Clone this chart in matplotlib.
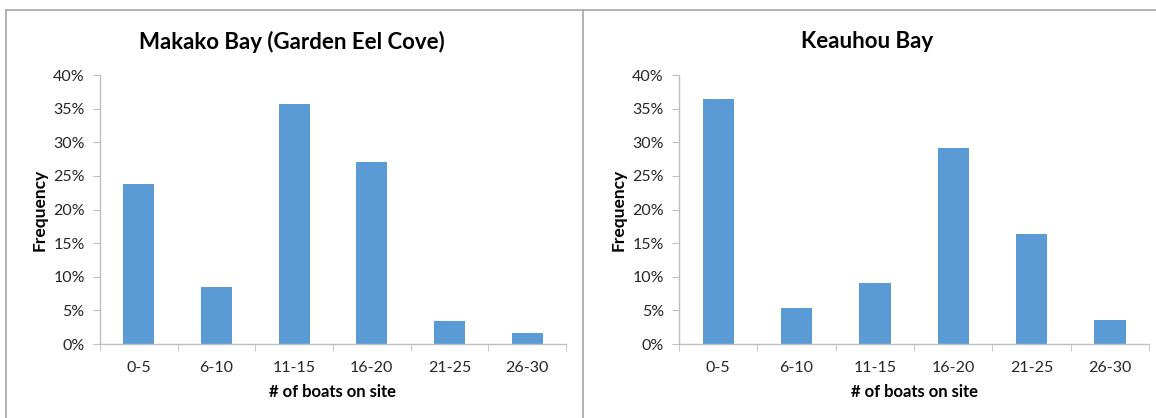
import matplotlib.pyplot as plt
import numpy as np
from matplotlib.lines import Line2D
from matplotlib.ticker import PercentFormatter

plt.rcParams['font.family'] = ['Lato', 'DejaVu Sans']

# Share of observations per boat-count bin (percent)
bins = ['0-5', '6-10', '11-15', '16-20', '21-25', '26-30']
makako = [23.8, 8.5, 35.7, 27.1, 3.4, 1.7]
keauhou = [36.4, 5.4, 9.1, 29.1, 16.4, 3.6]

bar_color = '#5b9bd5'
axis_color = '#bfbfbf'
text_color = '#262626'

fig = plt.figure(figsize=(11.56, 4.18), dpi=100)

# Chart areas, one per site
ax1 = fig.add_axes([0.0865, 0.177, 0.4031, 0.6435])
ax2 = fig.add_axes([0.5874, 0.177, 0.4066, 0.6435])

def draw_panel(ax, values):
    x = np.arange(len(bins))
    ax.bar(x, values, width=0.4, color=bar_color, zorder=2)
    ax.set_xlim(-0.5, len(bins) - 0.5)
    ax.set_ylim(0, 40)
    ax.set_yticks(np.arange(0, 41, 5))
    ax.yaxis.set_major_formatter(PercentFormatter(decimals=0))
    ax.set_xticks(x)
    ax.set_xticklabels(bins)
    ax.set_xticks(np.arange(-0.5, len(bins)), minor=True)
    ax.tick_params(axis='x', which='major', length=0, pad=12,
                   labelsize=11.5, labelcolor=text_color)
    ax.tick_params(axis='x', which='minor', length=5, color=axis_color)
    ax.tick_params(axis='y', length=5, color=axis_color, pad=6,
                   labelsize=11.5, labelcolor=text_color)
    for side in ['top', 'right']:
        ax.spines[side].set_visible(False)
    for side in ['left', 'bottom']:
        ax.spines[side].set_color(axis_color)
        ax.spines[side].set_linewidth(1.0)
    ax.set_ylabel('Frequency', fontsize=12.5, fontweight='bold',
                  color='black', labelpad=4)
    ax.set_xlabel('# of boats on site', fontsize=12, fontweight='bold',
                  color='black', labelpad=7)

draw_panel(ax1, makako)
draw_panel(ax2, keauhou)

fig.text(292 / 1156, 1 - 42 / 418, 'Makako Bay (Garden Eel Cove)',
         ha='center', va='center', fontsize=16, fontweight='bold')
fig.text(867 / 1156, 1 - 42 / 418, 'Keauhou Bay',
         ha='center', va='center', fontsize=16, fontweight='bold')

# Chart frames
frame_color = '#a6a6a6'
top = 1 - 10 / 418
fig.add_artist(Line2D([6 / 1156, 1], [top, top], color=frame_color, lw=1.2))
fig.add_artist(Line2D([6 / 1156, 6 / 1156], [0, top], color=frame_color, lw=1.2))
fig.add_artist(Line2D([583 / 1156, 583 / 1156], [0, top], color=frame_color, lw=1.2))

fig.savefig('out.png', dpi=100)
